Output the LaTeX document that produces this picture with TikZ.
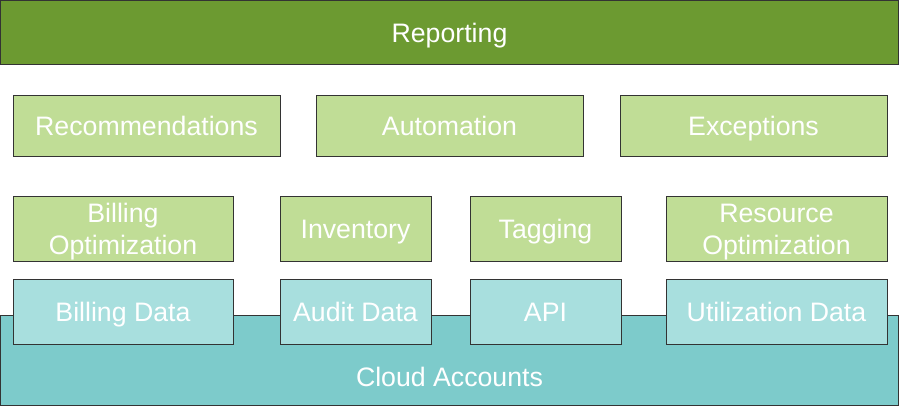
\documentclass[tikz,border=0pt]{standalone}
\usepackage{fontspec}
\setmainfont{Liberation Sans}
\usepackage{tikz}
\usetikzlibrary{positioning}
\definecolor{darkgreen}{HTML}{6C9A31}
\definecolor{lightgreen}{HTML}{C0DD96}
\definecolor{lightteal}{HTML}{A8DFDE}
\definecolor{cloudteal}{HTML}{7DCBCB}
\tikzset{
  layer/.style={
    draw=black!80,
    line width=1pt,
    inner sep=0pt,
    align=center,
    text=white,
    text height=19pt,
    text depth=0pt,
    font=\fontsize{26.7}{32}\selectfont
  },
  twoline/.style={text height={}},
  greenbox/.style={layer, fill=lightgreen},
  databox/.style={layer, fill=lightteal}
}

\begin{document}
\begin{tikzpicture}[x=1pt,y=-1pt]
          \useasboundingbox (0,0) rectangle (899,406);
          \node[layer, fill=darkgreen, minimum width=898pt, minimum height=64.5pt] (Rep) at (449.5,32.75) {Reporting};
          \node[greenbox, minimum width=267pt, minimum height=61pt] (Rec) at (146.5,126.5) {Recommendations};
          \node[greenbox, minimum width=267pt, minimum height=61pt] (Auto) at (449.5,126.5) {Automation};
          \node[greenbox, minimum width=267pt, minimum height=61pt] (Exc) at (753.5,126.5) {Exceptions};
          \node[greenbox, twoline, minimum width=220pt, minimum height=64pt] (BillOpt) at (123,229) {Billing\\Optimization};
          \node[greenbox, minimum width=151pt, minimum height=64pt] (Inv) at (355.5,229) {Inventory};
          \node[greenbox, minimum width=151pt, minimum height=64pt] (Tag) at (545.5,229) {Tagging};
          \node[greenbox, twoline, minimum width=221pt, minimum height=64pt] (ResOpt) at (776.5,229) {Resource\\Optimization};
          \node[layer, fill=cloudteal, minimum width=898pt, minimum height=90pt] (Cloud) at (449.5,360) {};
          \node[layer, draw=none] (CloudTxt) at (449.5,376.5) {Cloud Accounts};
          \node[databox, minimum width=220pt, minimum height=65pt] (BillData) at (123,311.5) {Billing Data};
          \node[databox, minimum width=151pt, minimum height=65pt] (Audit) at (355.5,311.5) {Audit Data};
          \node[databox, minimum width=151pt, minimum height=65pt] (API) at (545.5,311.5) {API};
          \node[databox, minimum width=221pt, minimum height=65pt] (Util) at (776.5,311.5) {Utilization Data};
        \end{tikzpicture}
\end{document}
